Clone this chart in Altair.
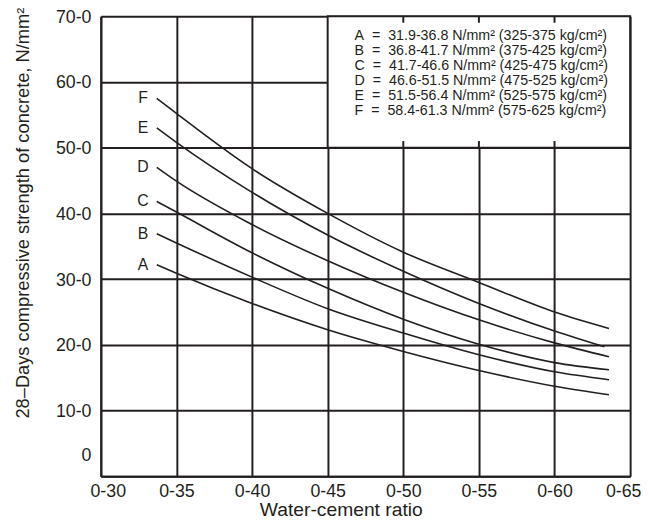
import altair as alt
import pandas as pd

# ---- data ----
letters = ["A", "B", "C", "D", "E", "F"]
mpa_ranges = ["31.9-36.8", "36.8-41.7", "41.7-46.6", "46.6-51.5", "51.5-56.4", "58.4-61.3"]
kg_ranges = ["325-375", "375-425", "425-475", "475-525", "525-575", "575-625"]

ratio_pts = [0.337, 0.35, 0.40, 0.45, 0.50, 0.55, 0.60, 0.636]
ratio_pts_E = [0.337, 0.35, 0.40, 0.45, 0.50, 0.55, 0.60, 0.633]
curve_A = [32.2, 30.9, 26.3, 22.3, 19.0, 16.1, 13.7, 12.4]
curve_B = [36.9, 35.5, 30.3, 25.5, 21.8, 18.5, 15.9, 14.7]
curve_C = [41.8, 40.2, 34.0, 28.6, 23.9, 20.1, 17.3, 16.2]
curve_D = [47.0, 44.9, 38.3, 32.8, 28.0, 23.8, 20.3, 18.2]
curve_E = [53.0, 50.8, 43.2, 36.7, 31.2, 26.3, 22.1, 19.7]
curve_F = [57.5, 55.2, 46.8, 40.0, 34.1, 29.5, 25.0, 22.5]

x_ticks = [0.30, 0.35, 0.40, 0.45, 0.50, 0.55, 0.60, 0.65]
y_ticks = [0, 10, 20, 30, 40, 50, 60, 70]
legend_box_x = [0.45, 0.65]
legend_box_y = [50, 70]
stub_x = [0.50, 0.55, 0.60]

x_title = "Water-cement ratio"
y_title = "28\u2013Days compressive strength of concrete, N/mm\u00b2"

# ---- tables ----
series = {
    "A": (ratio_pts, curve_A), "B": (ratio_pts, curve_B), "C": (ratio_pts, curve_C),
    "D": (ratio_pts, curve_D), "E": (ratio_pts_E, curve_E), "F": (ratio_pts, curve_F),
}
rows = []
for k, (xs, ys) in series.items():
    for i, (xv, yv) in enumerate(zip(xs, ys)):
        rows.append({"curve": k, "ratio": xv, "strength": yv, "order": i})
curves_df = pd.DataFrame(rows)
start_df = curves_df[curves_df["order"] == 0].reset_index(drop=True)

box_df = pd.DataFrame({"ratio": [legend_box_x[0]], "ratio2": [legend_box_x[1]],
                       "strength": [legend_box_y[0]], "strength2": [legend_box_y[1]]})
stub_rows = []
for sx in stub_x:
    stub_rows.append({"ratio": sx, "strength": legend_box_y[1], "strength2": legend_box_y[1] - 1})
    stub_rows.append({"ratio": sx, "strength": legend_box_y[0], "strength2": legend_box_y[0] + 1})
stub_df = pd.DataFrame(stub_rows)

NB = "\u00a0"
legend_text = "\n".join(
    f"{l}{NB}{NB}={NB}{NB}{m}{NB}N/mm\u00b2{NB}({k}{NB}kg/cm\u00b2)"
    for l, m, k in zip(letters, mpa_ranges, kg_ranges)
)
legend_df = pd.DataFrame({"txt": [legend_text]})

INK = "#231f20"
FONT = "Liberation Sans"

x_scale = alt.Scale(domain=[x_ticks[0], x_ticks[-1]], nice=False, zero=False)
y_scale = alt.Scale(domain=[y_ticks[0], y_ticks[-1]], nice=False)

lines = alt.Chart(curves_df).mark_line(color=INK, strokeWidth=1.6, interpolate="monotone").encode(
    x=alt.X("ratio:Q", scale=x_scale,
            axis=alt.Axis(values=x_ticks, title=x_title, grid=True, ticks=False,
                          labelExpr="replace(format(datum.value, '.2f'), '.', '-')",
                          labelPadding=6, labelFlush=True, labelFlushOffset=11,
                          titleFontSize=19.5, titleX=243, titleY=34,
                          titleAlign="center", titleBaseline="middle")),
    y=alt.Y("strength:Q", scale=y_scale,
            axis=alt.Axis(values=y_ticks, title=y_title, grid=True, ticks=False,
                          labelExpr="datum.value == 0 ? '0' : replace(format(datum.value, '.1f'), '.', '-')",
                          labelPadding=10, labelFlush=False,
                          labelOffset={"condition": {"test": "datum.value === 0", "value": -21},
                                       "value": 1},
                          titleFontSize=18.5,
                          titleX=-79, titleY=199, titleAngle=-90, titleAlign="center",
                          titleBaseline="middle")),
    detail="curve:N",
    order="order:Q",
)

box = alt.Chart(box_df).mark_rect(fill="white", stroke=INK, strokeWidth=2).encode(
    x=alt.X("ratio:Q", scale=x_scale),
    x2="ratio2:Q",
    y=alt.Y("strength:Q", scale=y_scale),
    y2="strength2:Q",
)

stubs = alt.Chart(stub_df).mark_rule(color=INK, strokeWidth=2).encode(
    x=alt.X("ratio:Q", scale=x_scale),
    y=alt.Y("strength:Q", scale=y_scale),
    y2="strength2:Q",
)

labels = alt.Chart(start_df).mark_text(font=FONT, fontSize=16, color=INK, dx=-14, dy=0,
                                        align="center", baseline="middle").encode(
    x=alt.X("ratio:Q", scale=x_scale),
    y=alt.Y("strength:Q", scale=y_scale),
    text="curve:N",
)

legend = alt.Chart(legend_df).mark_text(font=FONT, fontSize=14.4, color=INK, align="left",
                                        baseline="top", lineBreak="\n", lineHeight=15.3).encode(
    x=alt.value(257),
    y=alt.value(13),
    text="txt:N",
)

chart = alt.layer(lines, box, stubs, labels, legend).properties(
    width=536, height=466,
    autosize=alt.AutoSizeParams(type="none"),
    padding={"left": 94, "top": 5, "right": 11, "bottom": 44},
).configure_view(stroke=None).configure_axis(
    gridColor=INK, gridWidth=2, gridOpacity=1,
    domainColor=INK, domainWidth=2,
    labelFont=FONT, labelFontSize=18, labelColor=INK,
    titleFont=FONT, titleFontSize=18, titleColor=INK, titleFontWeight="normal",
)

chart.save("out.html", embed_options={"renderer": "svg", "actions": False})
